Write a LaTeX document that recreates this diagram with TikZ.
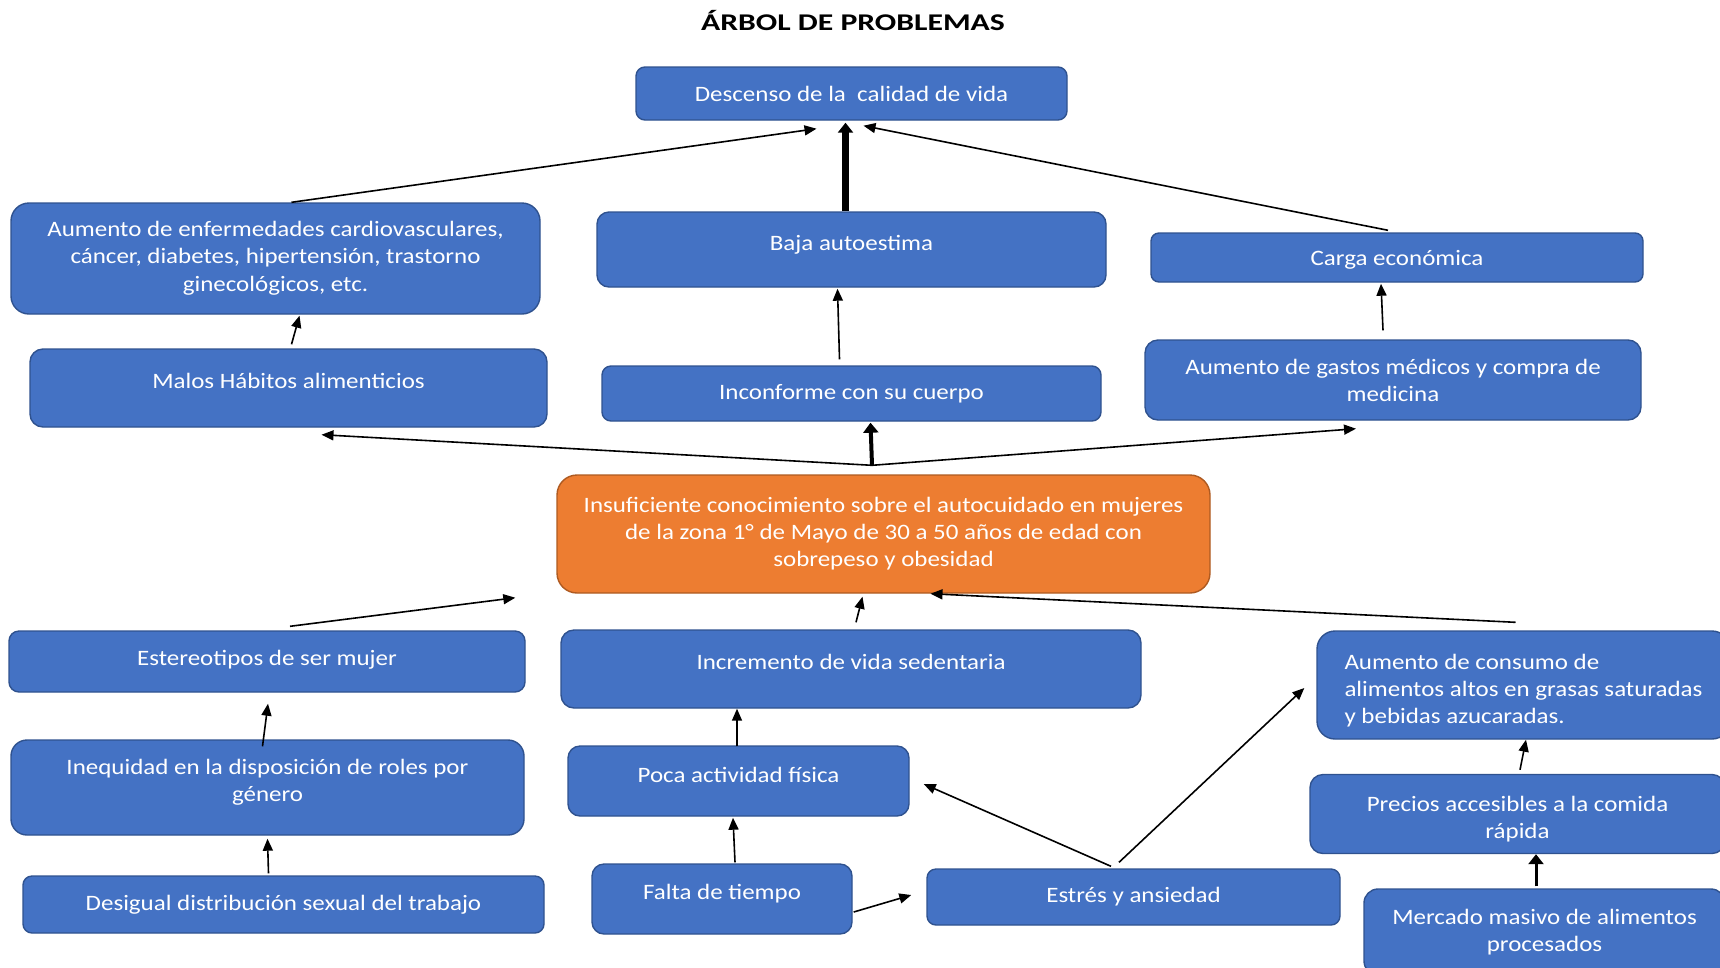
\documentclass[tikz,border=0pt]{standalone}
\usepackage{fontspec}
\setmainfont{Carlito}[FakeStretch=1.135]
\newfontfamily\titlefont{Carlito}[FakeStretch=1.32]
\usetikzlibrary{arrows.meta}
\definecolor{boxblue}{HTML}{4472C4}
\definecolor{boxline}{HTML}{2F528F}
\definecolor{boxorange}{HTML}{ED7D31}
\definecolor{orangeline}{HTML}{AE5A21}
\newcommand{\dropstrut}{\rule{0pt}{26pt}}

\begin{document}
\begin{tikzpicture}[x=1pt, y=-1pt,
   every node/.style={font=\fontsize{22}{27}\selectfont, text=white, align=center, inner sep=0pt},
   box/.style={draw=boxline, fill=boxblue, line width=1.4pt, rounded corners=#1},
   box/.default=10pt,
   dims/.style 2 args={minimum width=#1pt, minimum height=#2pt},
   lift/.style={text depth=#1},
   arr/.style={-{Triangle[length=12pt,width=10pt]}, line width=1.6pt},
   heavy/.style={-{Triangle[length=10pt,width=15pt]}, line width=#1}]

\useasboundingbox (0,0) rectangle (1720,967);

\node[text=black, font=\fontsize{24}{28}\selectfont\titlefont\bfseries] (title) at (853,21) {ÁRBOL DE PROBLEMAS};

% efectos
\node[box=9pt, dims={431}{53}] (desc) at (851.5,93.5) {Descenso de la~ calidad de vida};
\node[box=18pt, dims={529}{111}] (enf) at (275.5,258.5)
    {Aumento de enfermedades cardiovasculares,\\ cáncer, diabetes, hipertensión, trastorno\\[1pt] ginecológicos, etc.};
\node[box=12pt, dims={509}{75}, lift=14pt] (baja) at (851.5,249.5) {Baja autoestima};
\node[box=8pt, dims={492}{49}, lift=0pt] (carga) at (1397,257.5) {Carga económica};
\node[box=13pt, dims={517}{78}, lift=14pt] (malos) at (288.5,388) {Malos Hábitos alimenticios};
\node[box=9pt, dims={499}{55}] (inconf) at (851.5,393.5) {Inconforme con su cuerpo};
\node[box=13pt, dims={496}{80}] (gastos) at (1393,380) {Aumento de gastos médicos y compra de\\ medicina};

% problema central
\node[box=20pt, draw=orangeline, fill=boxorange, dims={653}{118}] (central) at (883.5,534)
    {Insuficiente conocimiento sobre el autocuidado en mujeres\\ de la zona 1° de Mayo de 30 a 50 años de edad con\\ sobrepeso y obesidad};

% causas
\node[box=10pt, dims={516}{61}, lift=8pt] (estereo) at (267,661.5) {Estereotipos de ser mujer};
\node[box=13pt, dims={580}{78}, lift=15pt] (sedent) at (851,669) {Incremento de vida sedentaria};
\node[box=18pt, dims={413}{108}, align=left] (consumo) at (1523.5,685)
    {\dropstrut Aumento de consumo de\\ alimentos altos en grasas saturadas\\ y bebidas azucaradas.};
\node[box=16pt, dims={513}{95}, lift=15pt] (ineq) at (267.5,787.5) {Inequidad en la disposición de roles por\\ género};
\node[box=12pt, dims={341}{70}, lift=13pt] (poca) at (738.5,781) {Poca actividad física};
\node[box=13pt, dims={415}{79}] (precios) at (1517.5,814) {\dropstrut Precios accesibles a la comida\\ rápida};
\node[box=9pt, dims={521}{57}] (desig) at (283.5,904.5) {Desigual distribución sexual del trabajo};
\node[box=12pt, dims={260}{70}, lift=14pt] (falta) at (722,899) {Falta de tiempo};
\node[box=9pt, dims={413}{56}] (estres) at (1133.5,897) {Estrés y ansiedad};
\node[box=14pt, dims={361}{86}] (mercado) at (1544.5,932) {Mercado masivo de alimentos\\ procesados};

\coordinate (apex) at ([xshift=-11.5pt,yshift=9pt]central.north);

\draw[arr] ([xshift=16pt]enf.north) -- ([xshift=-35pt,yshift=-8pt]desc.south);
\draw[heavy=7.5pt] ([xshift=-6pt]baja.north) -- ([xshift=-6pt,yshift=-2pt]desc.south);
\draw[arr] ([xshift=-9pt,yshift=2pt]carga.north) -- ([xshift=12pt,yshift=-5pt]desc.south);
\draw[arr] ([xshift=3pt,yshift=4pt]malos.north) -- ([xshift=24pt,yshift=-1pt]enf.south);
\draw[arr] ([xshift=-12pt,yshift=6pt]inconf.north) -- ([xshift=-14pt,yshift=-1pt]baja.south);
\draw[arr] ([xshift=-10pt,yshift=9pt]gastos.north) -- ([xshift=-16pt,yshift=-1pt]carga.south);

\draw[arr] (apex) -- ([xshift=33pt,yshift=-7pt]malos.south);
\draw[heavy=4pt] (apex) -- ([xshift=19pt,yshift=-1pt]inconf.south);
\draw[arr] (apex) -- ([xshift=-37pt,yshift=-8pt]gastos.south);

\draw[arr] ([xshift=23pt,yshift=4pt]estereo.north) -- ([xshift=-41pt,yshift=-4pt]central.south west);
\draw[arr] ([xshift=5pt,yshift=7pt]sedent.north) -- ([xshift=-21pt,yshift=-3pt]central.south);
\draw[arr] ([xshift=-8pt,yshift=8pt]consumo.north) -- ([xshift=47pt]central.south);
\draw[arr] ([xshift=-5pt,yshift=-7pt]ineq.north) -- ([xshift=1pt,yshift=-11pt]estereo.south);
\draw[arr] ([xshift=-15pt,yshift=2pt]desig.north) -- ([yshift=-3pt]ineq.south);
\draw[arr] ([xshift=-1.5pt,yshift=-1pt]poca.north) -- ([xshift=-114pt]sedent.south);
\draw[arr] ([xshift=13pt,yshift=1pt]falta.north) -- ([xshift=-5.5pt,yshift=-1pt]poca.south);
\draw[arr] ([xshift=1pt,yshift=-13pt]falta.east) -- ([xshift=-15pt,yshift=2pt]estres.west);
\draw[arr] ([xshift=-22.5pt,yshift=2pt]estres.north) -- ([xshift=14pt,yshift=-3pt]poca.east);
\draw[arr] ([xshift=-14.5pt,yshift=6pt]estres.north) -- ([xshift=-12pt,yshift=-3pt]consumo.west);
\draw[arr] ([xshift=2.5pt,yshift=4pt]precios.north) -- ([xshift=2.5pt]consumo.south);
\draw[heavy=3pt] ([xshift=-8.5pt,yshift=2pt]mercado.north) -- ([xshift=18.5pt]precios.south);

\end{tikzpicture}
\end{document}
